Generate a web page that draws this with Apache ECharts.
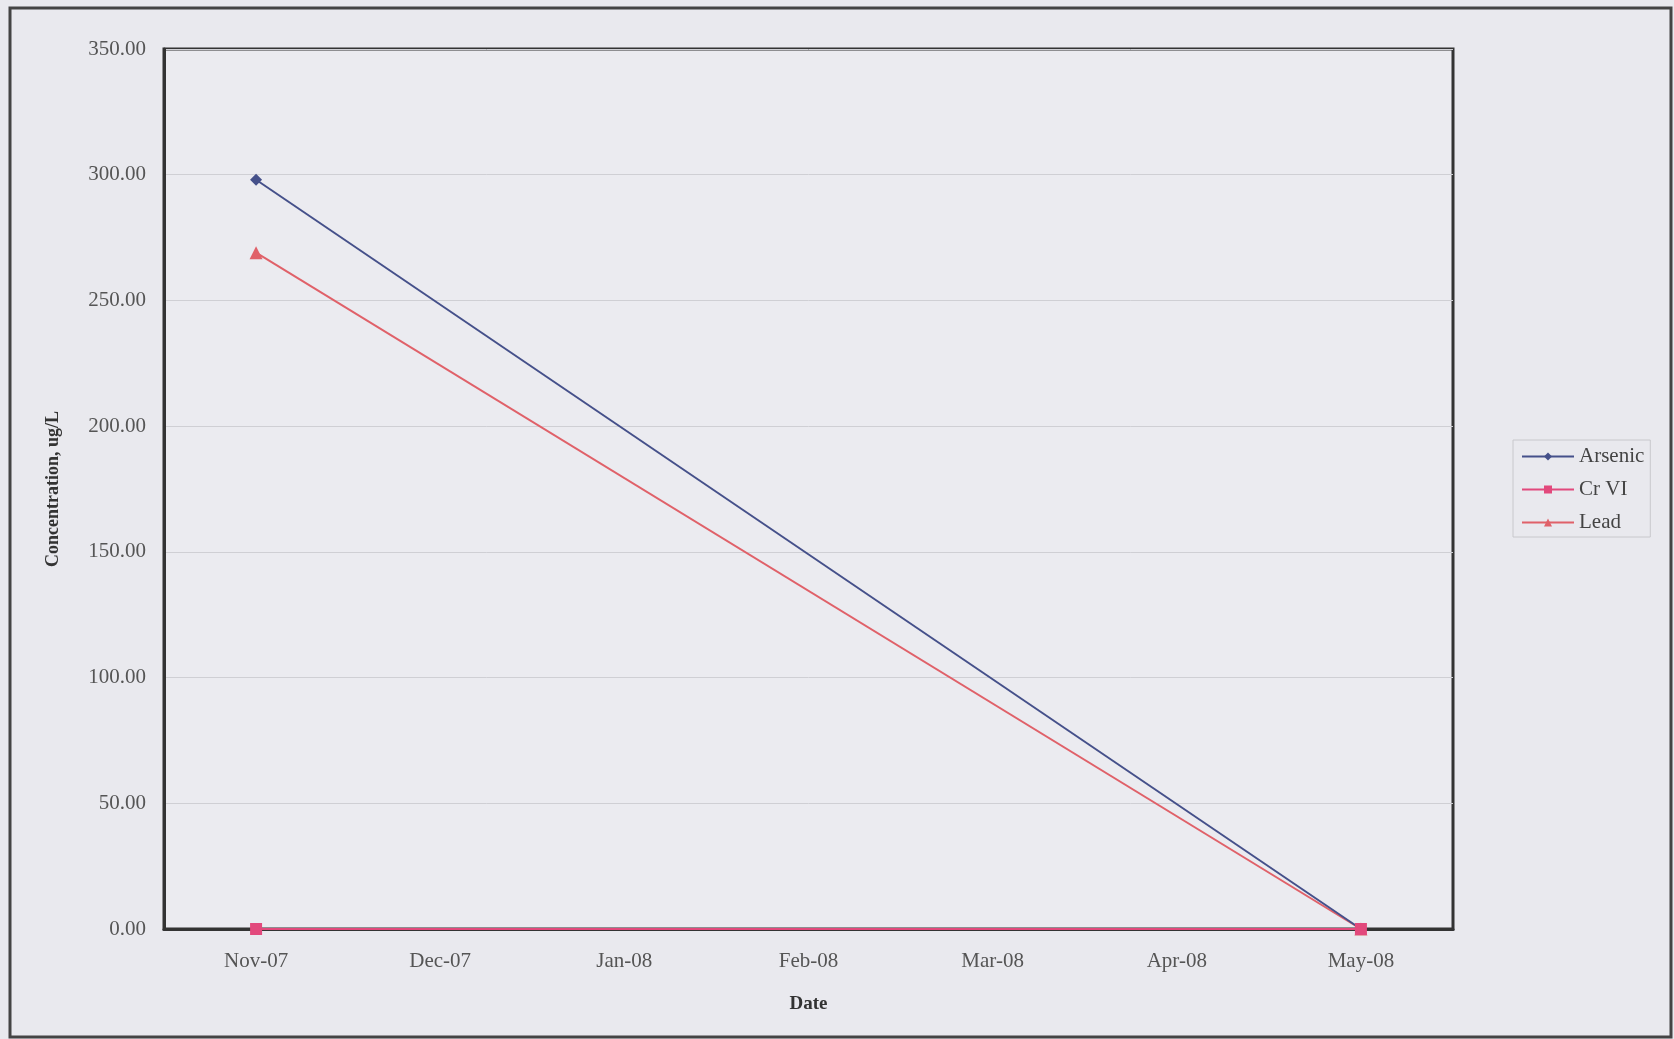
<!DOCTYPE html>
<html>
<head>
<meta charset="utf-8">
<script src="https://cdn.jsdelivr.net/npm/echarts@6/dist/echarts.min.js"></script>
<style>
  html, body { margin: 0; padding: 0; background: #e9e9ee; }
  #main { width: 1674px; height: 1039px; }
</style>
</head>
<body>
<div id="main"></div>
<script>
var months = ['Nov-07', 'Dec-07', 'Jan-08', 'Feb-08', 'Mar-08', 'Apr-08', 'May-08'];
var arsenic = [298, null, null, null, null, null, 0];
var crVI = [0, null, null, null, null, null, 0];
var lead = [269, null, null, null, null, null, 0];

var serif = '"Liberation Serif", "DejaVu Serif", serif';

var myChart = echarts.init(document.getElementById('main'));

var option = {
    backgroundColor: '#e9e9ee',
    textStyle: { fontFamily: serif },
    graphic: [{
        type: 'rect',
        shape: { x: 10, y: 8, width: 1661, height: 1029 },
        style: { fill: 'none', stroke: '#444', lineWidth: 3 },
        silent: true
    }],
    grid: {
        left: 164, top: 49, right: 221, bottom: 110,
        show: true,
        borderColor: '#333',
        borderWidth: 3,
        backgroundColor: '#ebebf0'
    },
    legend: {
        orient: 'vertical',
        left: 1513,
        top: 440,
        itemWidth: 52,
        itemHeight: 10,
        itemGap: 12,
        padding: [6, 6, 4, 8],
        borderColor: '#c8c8cc',
        borderWidth: 1,
        textStyle: { fontFamily: serif, fontSize: 21, color: '#444' },
        data: ['Arsenic', 'Cr VI', 'Lead']
    },
    xAxis: {
        type: 'category',
        data: months,
        boundaryGap: true,
        name: 'Date',
        nameLocation: 'middle',
        nameGap: 66,
        nameTextStyle: { fontFamily: serif, fontSize: 19, fontWeight: 'bold', color: '#333' },
        axisLine: { lineStyle: { color: '#333', width: 3 } },
        axisTick: { show: false },
        axisLabel: { fontFamily: serif, fontSize: 21, color: '#555', margin: 22 },
        splitLine: { show: false }
    },
    yAxis: {
        type: 'value',
        min: 0,
        max: 350,
        interval: 50,
        name: 'Concentration, ug/L',
        nameLocation: 'middle',
        nameGap: 102,
        nameTextStyle: { fontFamily: serif, fontSize: 18, fontWeight: 'bold', color: '#333' },
        axisLine: { show: true, lineStyle: { color: '#333', width: 3 } },
        axisTick: { show: false },
        axisLabel: {
            fontFamily: serif, fontSize: 21, color: '#555', margin: 18,
            formatter: function (v) { return v.toFixed(2); }
        },
        splitLine: { lineStyle: { color: '#cfcfd4', width: 1 } }
    },
    series: [{
        name: 'Arsenic',
        type: 'line',
        data: arsenic,
        connectNulls: true,
        symbol: 'diamond',
        symbolSize: 12,
        color: '#45508a',
        lineStyle: { width: 2 },
        z: 3
    }, {
        name: 'Cr VI',
        type: 'line',
        data: crVI,
        connectNulls: true,
        symbol: 'rect',
        symbolSize: 12,
        color: '#e2497c',
        lineStyle: { width: 2 },
        z: 4
    }, {
        name: 'Lead',
        type: 'line',
        data: lead,
        connectNulls: true,
        symbol: 'triangle',
        symbolSize: 13,
        color: '#e06169',
        lineStyle: { width: 2 },
        z: 2
    }]
};

myChart.setOption(option);
</script>
</body>
</html>
